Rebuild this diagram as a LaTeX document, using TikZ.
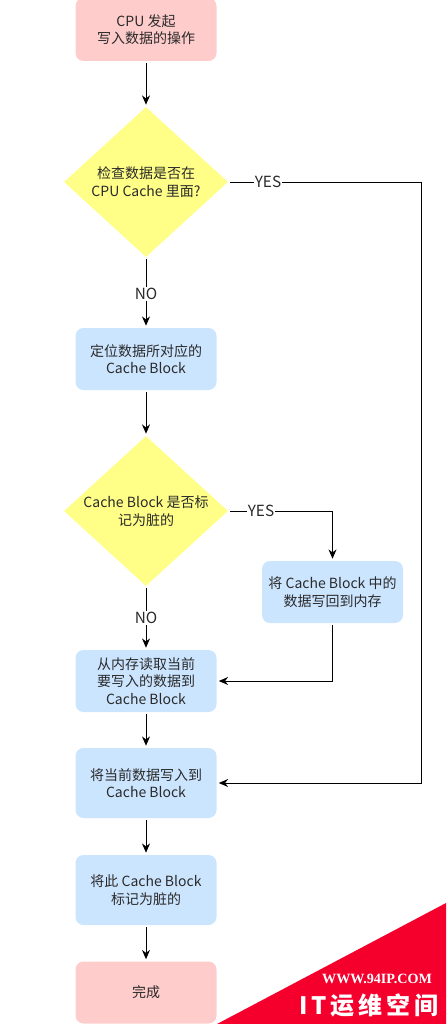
\documentclass[tikz,border=0pt]{standalone}
\usepackage{fontspec}
\setmainfont{Noto Sans CJK SC}
\newfontfamily\markfont{Liberation Serif}
\usetikzlibrary{shapes.geometric,arrows.meta,positioning}
\definecolor{pinkfill}{HTML}{FFCCCC}
\definecolor{bluefill}{HTML}{CCE5FF}
\definecolor{yellowfill}{HTML}{FFFF88}
\definecolor{markred}{HTML}{F5002D}
\definecolor{inktext}{HTML}{2A2A2A}
\tikzset{
  x=0.75pt,y=-0.75pt,
  every node/.style={font=\fontsize{10.5pt}{13.2pt}\selectfont,text=inktext,align=center,inner sep=0pt},
  flowbox/.style={rounded corners=6pt,minimum width=105.75pt,draw=none},
  startbox/.style={flowbox,fill=pinkfill},
  stepbox/.style={flowbox,fill=bluefill},
  choice/.style={diamond,fill=yellowfill,inner sep=-15pt,minimum width=123pt,minimum height=112.5pt,draw=none},
  link/.style={draw=black,line width=0.75pt,shorten >=1.5pt,shorten <=1.5pt},
  flow/.style={link,-{Stealth[length=7pt,width=6pt]}},
  edgelabel/.style={fill=white,inner sep=0.6pt,font=\fontsize{11.5pt}{13pt}\selectfont}
}
\begin{document}
\begin{tikzpicture}
\useasboundingbox (0,0) rectangle (446,1024);
\node[startbox,minimum height=47.25pt] (start) at (146,29.5) {CPU 发起\\写入数据的操作};
\node[choice] (check) at (146,182) {检查数据是否在\\CPU Cache 里面?};
\node[stepbox,minimum height=46.5pt] (locate) at (146,359) {定位数据所对应的\\Cache Block};
\node[choice] (dirty) at (146,511) {Cache Block 是否标\\记为脏的};
\node[stepbox,minimum height=46.5pt] (flush) at (332.5,592) {将 Cache Block 中的\\数据写回到内存};
\node[stepbox,minimum height=46.5pt] (load) at (146,681) {从内存读取当前\\要写入的数据到\\Cache Block};
\node[stepbox,minimum height=52.5pt] (write) at (146,783) {将当前数据写入到\\Cache Block};
\node[stepbox,minimum height=52.5pt] (mark) at (146,890) {将此 Cache Block\\标记为脏的};
\node[startbox,minimum height=46.5pt] (done) at (146,992.5) {完成};

\draw[flow] (start) -- (check);
\draw[flow] (check) -- node[edgelabel,pos=0.52] {NO} (locate);
\draw[flow] (locate) -- (dirty);
\draw[flow] (dirty) -- node[edgelabel] {NO} (load);
\draw[flow] (load) -- (write);
\draw[flow] (write) -- (mark);
\draw[flow] (mark) -- (done);
\coordinate (yesturn) at (421,182);
\coordinate (yesdown) at (421,783);
\draw[flow] (check.east) -- (yesturn) -- (yesdown) -- (write.east);
\node[edgelabel] (yesa) at (268,182) {YES};
\coordinate (dirtyturn) at (332.5,511);
\draw[flow] (dirty.east) -- (dirtyturn) -- (flush.north);
\node[edgelabel] (yesb) at (261,511) {YES};
\coordinate (flushturn) at (332.5,681);
\draw[flow] (flush.south) -- (flushturn) -- (load.east);

\fill[markred] (217,1024) -- (446,903) -- (446,1024) -- cycle;
\node[text=white,font=\markfont\bfseries\fontsize{10.6pt}{11pt}\selectfont] (wm) at (377,979) {WWW.94IP.COM};
\node[text=white,font=\bfseries\fontsize{18pt}{20pt}\selectfont] (wn) at (369,1005) {I\,T\,运\,维\,空\,间};
\end{tikzpicture}
\end{document}
